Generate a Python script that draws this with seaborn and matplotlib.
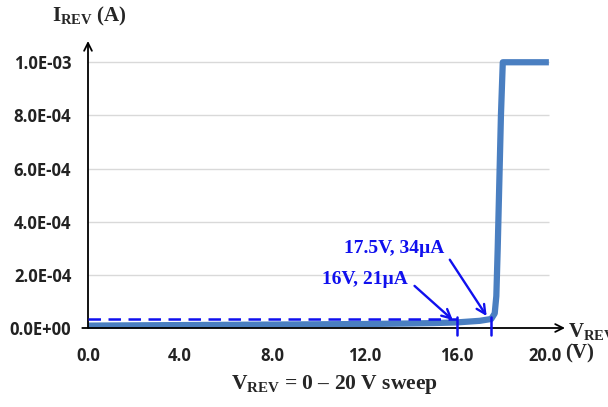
import numpy as np
import pandas as pd
import matplotlib
matplotlib.use('Agg')
import matplotlib.pyplot as plt
import matplotlib.transforms as mtransforms
import seaborn as sns

# reverse sweep data
v_rev = [0, 2, 4, 6, 8, 10, 12, 14, 15, 16, 17, 17.5, 17.65, 17.72, 17.78, 17.85, 17.92, 18.0, 19, 20]
i_rev = [0.9e-5, 1.0e-5, 1.1e-5, 1.2e-5, 1.3e-5, 1.4e-5, 1.5e-5, 1.7e-5, 1.85e-5, 2.1e-5, 2.7e-5, 3.4e-5,
         5.5e-5, 1.2e-4, 3.0e-4, 5.5e-4, 8.0e-4, 1.0e-3, 1.0e-3, 1.0e-3]
x_ticks = [0, 4, 8, 12, 16, 20]
x_tick_labels = ['0.0', '4.0', '8.0', '12.0', '16.0', '20.0']
y_ticks = [0, 2e-4, 4e-4, 6e-4, 8e-4, 1e-3]
y_tick_labels = ['0.0E+00', '2.0E-04', '4.0E-04', '6.0E-04', '8.0E-04', '1.0E-03']
marks_v = [16, 17.5]
marks_text = ['16V, 21\u00b5A', '17.5V, 34\u00b5A']
dash_level = 3.2e-5

df = pd.DataFrame({'V': v_rev, 'I': i_rev})

sns.set_style('white')
plt.rcParams['font.family'] = ['Open Sans', 'DejaVu Sans']
plt.rcParams['mathtext.fontset'] = 'custom'
plt.rcParams['mathtext.rm'] = 'Liberation Serif:bold'
plt.rcParams['mathtext.it'] = 'Liberation Serif:bold'
plt.rcParams['mathtext.bf'] = 'Liberation Serif:bold'

blue = '#1010ee'
fig = plt.figure(figsize=(6.08, 4.07), dpi=100)
ax = fig.add_axes([88 / 608, 1 - 328 / 407, 477 / 608, 287 / 407])

ax.set_xlim(0, 20.7)
ax.set_ylim(0, 1.08e-3)

# gridlines only up to 20 V
ax.hlines(y_ticks[1:], 0, 20, color='#d9d9d9', lw=1, zorder=0)

sns.lineplot(data=df, x='V', y='I', color='#4a7fc1', lw=4.5, ax=ax,
             solid_capstyle='butt', clip_on=False, zorder=3)

# dashed reference level up to 16 V
ax.plot([0, marks_v[0]], [dash_level, dash_level], color=blue, lw=1.8,
        ls=(0, (5, 3)), zorder=4)

for x in marks_v:
    ax.plot([x, x], [4.3e-5, -2.7e-5], color=blue, lw=1.8, clip_on=False, zorder=5)

# callouts
ax.text(12.0, 1.81e-4, marks_text[0], ha='center', va='center', color=blue,
        fontsize=14, family='Liberation Serif', weight='bold')
ax.text(13.3, 2.98e-4, marks_text[1], ha='center', va='center', color=blue,
        fontsize=14, family='Liberation Serif', weight='bold')
ax.annotate('', xy=(15.83, 3.0e-5), xytext=(14.17, 1.585e-4),
            arrowprops=dict(arrowstyle='->', color=blue, lw=1.7,
                            shrinkA=0, shrinkB=0, mutation_scale=16))
ax.annotate('', xy=(17.30, 4.5e-5), xytext=(15.70, 2.57e-4),
            arrowprops=dict(arrowstyle='->', color=blue, lw=1.7,
                            shrinkA=0, shrinkB=0, mutation_scale=16))

# axes with arrow heads
for s in ax.spines.values():
    s.set_visible(False)
ax.annotate('', xy=(0, 1), xycoords='axes fraction', xytext=(0, 0),
            arrowprops=dict(arrowstyle='->', color='black', lw=1.3, shrinkA=0, shrinkB=0,
                            mutation_scale=14))
ax.annotate('', xy=(1, 0), xycoords='axes fraction', xytext=(-0.012, 0),
            arrowprops=dict(arrowstyle='->', color='black', lw=1.3, shrinkA=0, shrinkB=0,
                            mutation_scale=14))

ax.set_xticks(x_ticks)
ax.set_xticklabels(x_tick_labels, fontsize=12, fontweight='bold', color='#222222')
ax.set_xticks(np.arange(1, 21, 1), minor=True)
ax.tick_params(axis='x', which='major', length=0, pad=13.5)
ax.tick_params(axis='x', which='minor', length=5, width=0.8, color='#bbbbbb', direction='out')
ax.set_yticks(y_ticks)
ax.set_yticklabels(y_tick_labels, fontsize=12, fontweight='bold', color='#222222')
ax.tick_params(axis='y', length=0, pad=12)
ax.set_xlabel('')
ax.set_ylabel('')

# last x label sits a little left of its tick
last = ax.get_xticklabels()[-1]
last.set_transform(last.get_transform() + mtransforms.ScaledTranslation(-4 / 100, 0, fig.dpi_scale_trans))

fig.text(580 / 608, 1 - 353 / 407, '(V)', ha='center', va='center',
         fontsize=15, family='Liberation Serif', weight='bold')
fig.text(89 / 608, 1 - 16 / 407, r'$I_{REV}$ (A)', ha='center', va='center',
         fontsize=15, family='Liberation Serif', weight='bold')
fig.text(568 / 608, 1 - 331 / 407, r'$V_{REV}$', ha='left', va='center',
         fontsize=15, family='Liberation Serif', weight='bold')
fig.text(334 / 608, 1 - 385 / 407, r'$V_{REV}$' + ' = 0 \u2013 20 V sweep', ha='center', va='center',
         fontsize=15.5, family='Liberation Serif', weight='bold')

fig.savefig('out.png', dpi=100)
